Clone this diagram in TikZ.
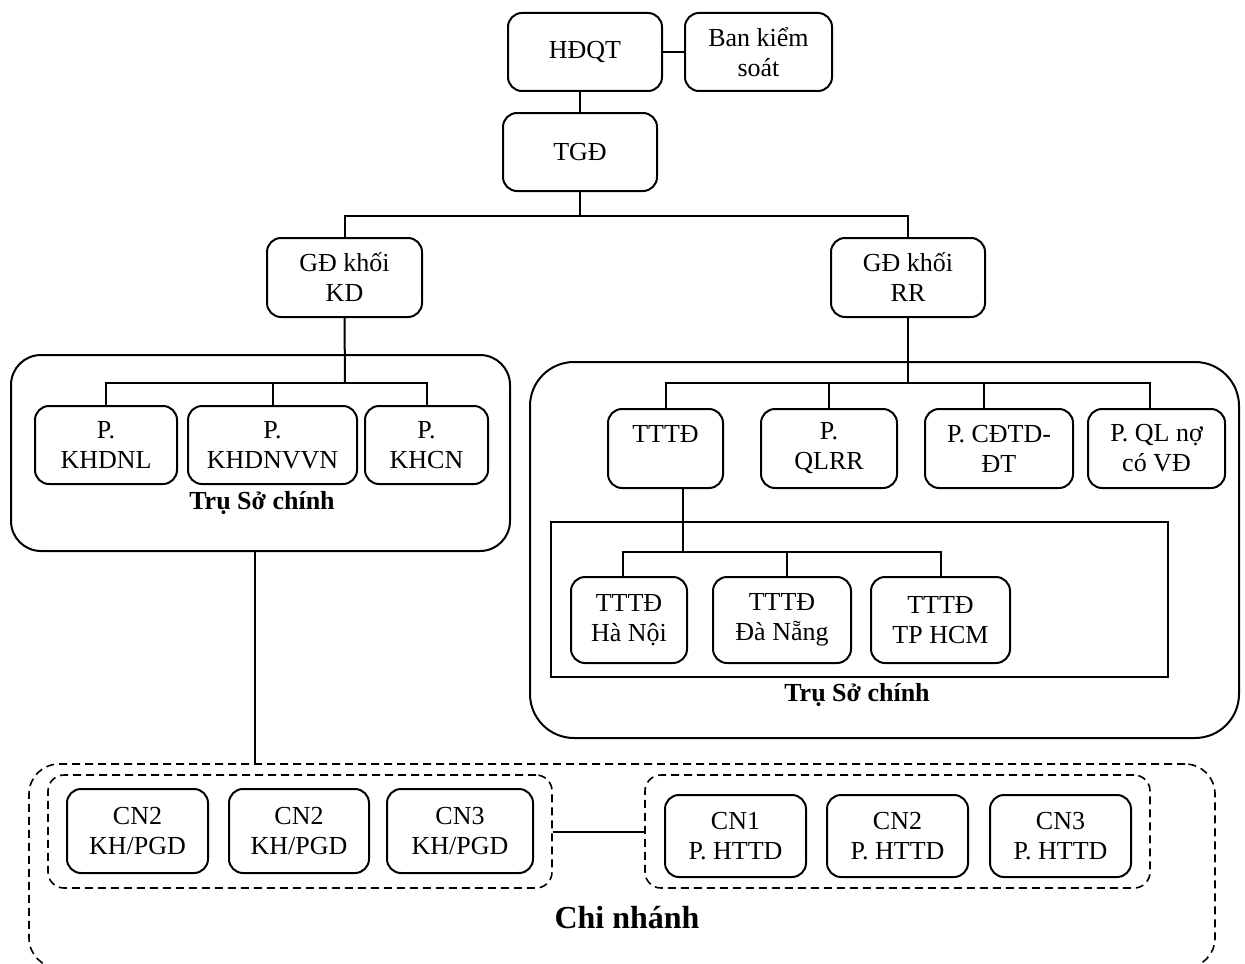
\documentclass[tikz,border=0pt]{standalone}
\usepackage{fontspec}
\setmainfont{Liberation Serif}
\begin{document}
\begin{tikzpicture}[x=0.5pt,y=-0.5pt,
  every node/.style={font=\fontsize{13}{15}\selectfont},
  unit/.style={draw, rounded corners=7pt, line width=1pt, align=center, inner sep=0pt},
  frame/.style={draw, line width=1pt, inner sep=0pt},
  dashframe/.style={draw, line width=0.8pt, dash pattern=on 4pt off 2.5pt, inner sep=0pt},
  link/.style={line width=1pt},
  caption/.style={font=\fontsize{13}{15}\selectfont\bfseries},
]
\useasboundingbox (0,0) rectangle (1245,963);
\clip (0,0) rectangle (1245,963);

% --- board level ---
\node[unit, minimum width=77pt, minimum height=39pt] (hdqt) at (585,52) {HĐQT};
\node[unit, minimum width=73.5pt, minimum height=39pt] (bks) at (758.5,52) {Ban kiểm\\soát};
\node[unit, minimum width=77pt, minimum height=39pt] (tgd) at (580,152) {TGĐ};
\node[unit, minimum width=77.5pt, minimum height=39.5pt] (gdkd) at (344.5,277.5) {GĐ khối\\KD};
\node[unit, minimum width=77pt, minimum height=39.5pt] (gdrr) at (908,277.5) {GĐ khối\\RR};

% --- head office, business block ---
\node[frame, rounded corners=15pt, minimum width=249.5pt, minimum height=98pt] (hoL) at (260.5,453) {};
\node[unit, minimum width=71pt, minimum height=39pt] (pkhdnl) at (106,445) {P.\\KHDNL};
\node[unit, minimum width=84.5pt, minimum height=39pt] (pkhdnvvn) at (272.5,445) {P.\\KHDNVVN};
\node[unit, minimum width=61.5pt, minimum height=39pt] (pkhcn) at (426.5,445) {P.\\KHCN};
\node[caption] (capL) at (262,503) {Trụ Sở chính};

% --- head office, risk block ---
\node[frame, rounded corners=22pt, minimum width=354.5pt, minimum height=188pt] (hoR) at (884.5,550) {};
\node[unit, minimum width=57.5pt, minimum height=39.5pt] (tttd) at (665.5,448.5) {TTTĐ\\\mbox{}};
\node[unit, minimum width=68pt, minimum height=39.5pt] (pqlrr) at (829,448.5) {P.\\QLRR};
\node[unit, minimum width=74pt, minimum height=39.5pt] (pcdtd) at (999,448.5) {P. CĐTD-\\ĐT};
\node[unit, minimum width=68.5pt, minimum height=39.5pt] (pqlno) at (1156.5,448.5) {P. QL nợ\\có VĐ};
\node[frame, minimum width=308.5pt, minimum height=77.5pt] (centers) at (859.5,599.5) {};
\node[unit, minimum width=58pt, minimum height=43pt] (hanoi) at (629,620) {TTTĐ\\Hà Nội};
\node[unit, minimum width=69pt, minimum height=43pt] (danang) at (782,620) {TTTĐ\\Đà Nẵng};
\node[unit, minimum width=69.5pt, minimum height=43pt] (hcm) at (940.5,620) {TTTĐ\\TP HCM};
\node[caption] (capR) at (857,695) {Trụ Sở chính};

% --- branches ---
\node[dashframe, rounded corners=15pt, minimum width=593pt, minimum height=102pt] (branch) at (622,866) {};
\node[dashframe, rounded corners=8pt, minimum width=252pt, minimum height=56.5pt] (grpL) at (300,831.5) {};
\node[dashframe, rounded corners=8pt, minimum width=252.5pt, minimum height=56.5pt] (grpR) at (897.5,831.5) {};
\node[unit, minimum width=70.5pt, minimum height=42pt] (kh1) at (137.5,831) {CN2\\KH/PGD};
\node[unit, minimum width=70pt, minimum height=42pt] (kh2) at (299,831) {CN2\\KH/PGD};
\node[unit, minimum width=73pt, minimum height=42pt] (kh3) at (460,831) {CN3\\KH/PGD};
\node[unit, minimum width=70.5pt, minimum height=41pt] (ht1) at (735.5,836) {CN1\\P. HTTD};
\node[unit, minimum width=70.5pt, minimum height=41pt] (ht2) at (897.5,836) {CN2\\P. HTTD};
\node[unit, minimum width=70.5pt, minimum height=41pt] (ht3) at (1060.5,836) {CN3\\P. HTTD};
\node[font=\fontsize{16}{18}\selectfont\bfseries] (capB) at (627,918) {Chi nhánh};

% --- connectors ---
\draw[link] (hdqt.east) -- (bks.west);
\draw[link] (hdqt.south -| tgd.north) -- (tgd.north);
\coordinate (topbar) at (580,216);
\draw[link] (tgd.south) -- (topbar);
\draw[link] (gdkd.north) |- (topbar) -| (gdrr.north);

\coordinate (lbar) at (345,383);
\draw[link] (gdkd.south) -- (lbar);
\draw[link] (pkhdnl.north) |- (lbar) -| (pkhcn.north);
\draw[link] (pkhdnvvn.north) -- (pkhdnvvn.north |- lbar);

\coordinate (rbar) at (908,383);
\draw[link] (gdrr.south) -- (rbar);
\draw[link] (tttd.north) |- (rbar) -| ([xshift=-3.25pt]pqlno.north);
\draw[link] (pqlrr.north) -- (pqlrr.north |- rbar);
\draw[link] ([xshift=-7.5pt]pcdtd.north) -- ([xshift=-7.5pt]pcdtd.north |- rbar);

\coordinate (cbar) at (683,552);
\draw[link] ([xshift=8.75pt]tttd.south) -- (cbar);
\draw[link] ([xshift=-3pt]hanoi.north) |- (cbar) -| (hcm.north);
\draw[link] ([xshift=2.5pt]danang.north) -- ([xshift=2.5pt]danang.north |- cbar);

\draw[link] ([xshift=-2.75pt]hoL.south) -- ([xshift=-2.75pt]hoL.south |- branch.north);
\draw[link] (grpL.east) -- (grpR.west);
\end{tikzpicture}
\end{document}
